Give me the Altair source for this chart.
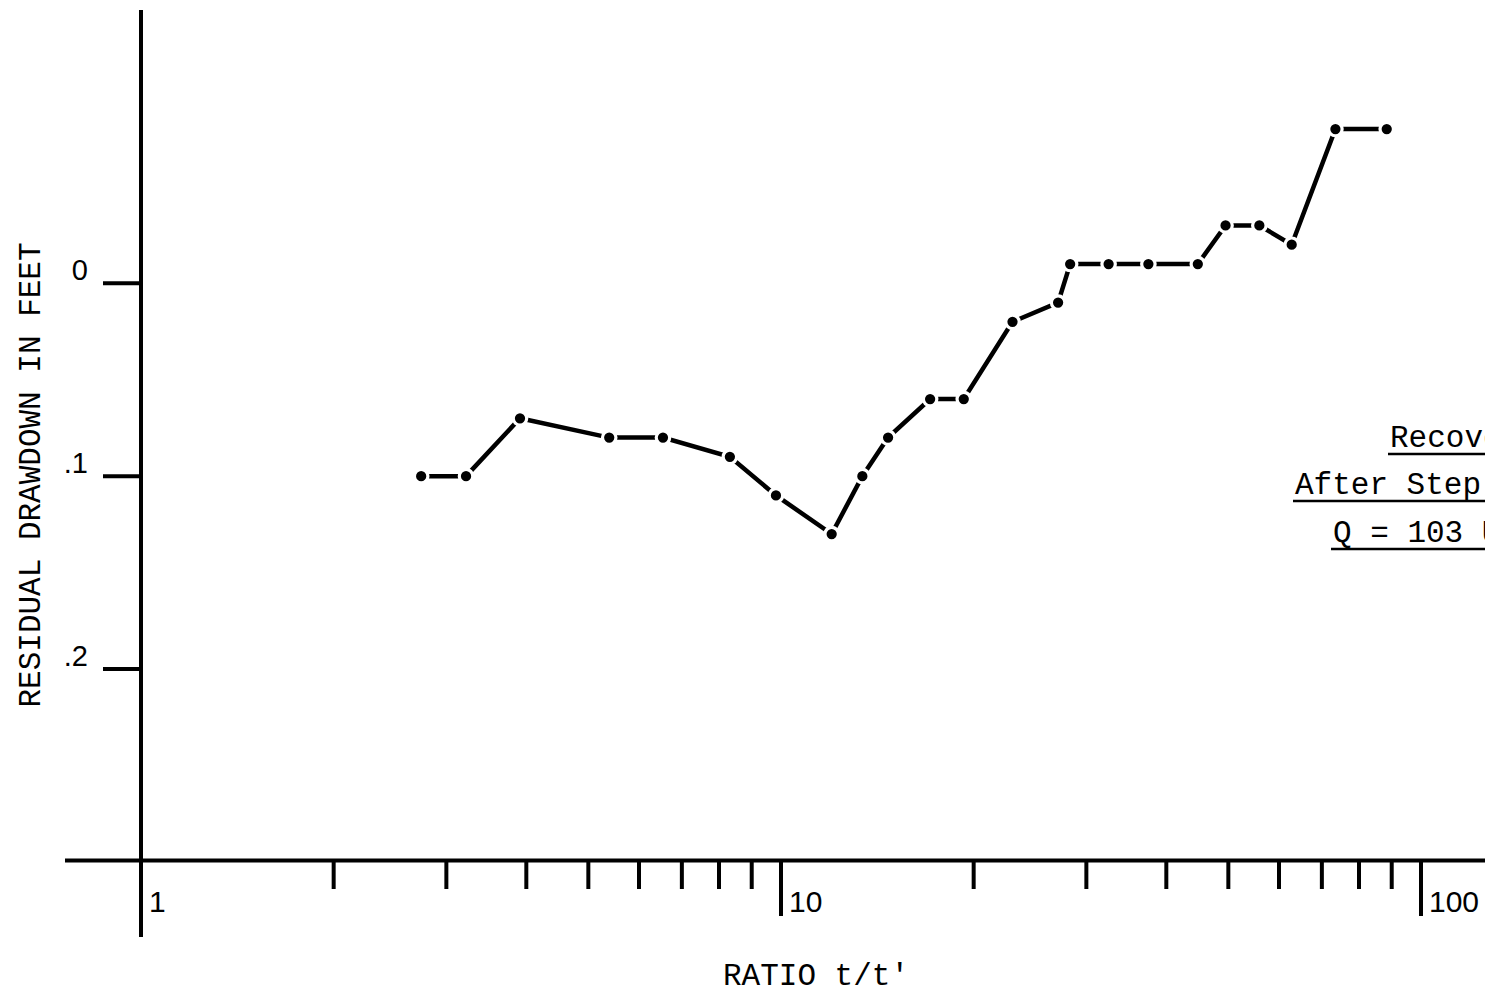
import altair as alt
import pandas as pd

# ---- data ----
ratio = [2.74, 3.22, 3.91, 5.39, 6.54, 8.32, 9.82, 12.0, 13.4, 14.7, 17.1, 19.3,
         23.0, 27.1, 28.3, 32.5, 37.5, 44.8, 49.5, 55.9, 62.8, 73.5, 88.4]
drawdown = [0.10, 0.10, 0.07, 0.08, 0.08, 0.09, 0.11, 0.13, 0.10, 0.08, 0.06, 0.06,
            0.02, 0.01, -0.01, -0.01, -0.01, -0.01, -0.03, -0.03, -0.02, -0.08, -0.08]

x_minor_ticks = [2, 3, 4, 5, 6, 7, 8, 9, 20, 30, 40, 50, 60, 70, 80, 90]
x_major_ticks = [10, 100]
x_axis_origin = [1]
x_label_values = [1, 10, 100]
x_label_text = ["1", "10", "100"]
y_tick_values = [0, 0.1, 0.2]
y_tick_text = ["0", ".1", ".2"]

y_title = "RESIDUAL DRAWDOWN IN FEET"
x_title = "RATIO t/t'"
note_lines = ["Recovery", "After Step Test", "Q = 103 USGPM"]

# ---- geometry (plot-area pixels) ----
W, H = 1477, 986
X_ONE_PX = 133.0       # where ratio 1 sits
DECADE_PX = 640.0
Y_ZERO_PX = 275.3      # where drawdown 0 sits
PX_PER_UNIT = 1928.5

xmin = 10 ** (-X_ONE_PX / DECADE_PX)
xmax = 10 ** ((W - X_ONE_PX) / DECADE_PX)
ymin = -Y_ZERO_PX / PX_PER_UNIT
ymax = (H - Y_ZERO_PX) / PX_PER_UNIT

x_scale = alt.Scale(type="log", domain=[xmin, xmax], nice=False)
y_scale = alt.Scale(domain=[ymin, ymax], reverse=True, nice=False, zero=False)

TYPE_FONT = "Liberation Mono"
NUM_FONT = "Liberation Sans"
AXIS_Y = 852.5
INK = "black"
RULE_W = 4

one = pd.DataFrame({"k": [0]})

def xq(field="v"):
    return alt.X(f"{field}:Q", scale=x_scale, axis=None)

def yq(field="v"):
    return alt.Y(f"{field}:Q", scale=y_scale, axis=None)

# axis lines
x_axis_line = alt.Chart(one).mark_rule(color=INK, strokeWidth=RULE_W).encode(
    x=alt.value(57), x2=alt.value(W + 20), y=alt.value(AXIS_Y))
y_axis_line = alt.Chart(pd.DataFrame({"v": x_axis_origin})).mark_rule(
    color=INK, strokeWidth=RULE_W).encode(x=xq(), y=alt.value(2), y2=alt.value(929))

minor = alt.Chart(pd.DataFrame({"v": x_minor_ticks})).mark_rule(
    color=INK, strokeWidth=RULE_W).encode(x=xq(), y=alt.value(AXIS_Y), y2=alt.value(881))
major = alt.Chart(pd.DataFrame({"v": x_major_ticks})).mark_rule(
    color=INK, strokeWidth=RULE_W).encode(x=xq(), y=alt.value(AXIS_Y), y2=alt.value(908))

y_ticks = alt.Chart(pd.DataFrame({"v": y_tick_values})).mark_rule(
    color=INK, strokeWidth=RULE_W).encode(y=yq(), x=alt.value(95), x2=alt.value(133))

x_labels = alt.Chart(pd.DataFrame({"v": x_label_values, "t": x_label_text})).mark_text(
    font=NUM_FONT, fontSize=30, align="left", baseline="alphabetic", dx=8, color=INK
).encode(x=xq(), y=alt.value(904), text="t:N")

y_labels = alt.Chart(pd.DataFrame({"v": y_tick_values, "t": y_tick_text})).mark_text(
    font=NUM_FONT, fontSize=29, align="right", baseline="alphabetic", dy=-3, color=INK
).encode(y=yq(), x=alt.value(80), text="t:N")

series = pd.DataFrame({"ratio": ratio, "drawdown": drawdown})
line = alt.Chart(series).mark_line(color=INK, strokeWidth=4.5).encode(
    x=xq("ratio"), y=yq("drawdown"))
dots = alt.Chart(series).mark_point(
    filled=True, shape="circle", size=181, fill=INK, stroke="white",
    strokeWidth=3.2, opacity=1).encode(x=xq("ratio"), y=yq("drawdown"))

ytitle = alt.Chart(one).mark_text(
    text=y_title, font=TYPE_FONT, fontSize=31, angle=270, align="center",
    baseline="middle", color=INK).encode(x=alt.value(23), y=alt.value(467))
xtitle = alt.Chart(one).mark_text(
    text=x_title, font=TYPE_FONT, fontSize=31, align="center",
    baseline="alphabetic", color=INK).encode(x=alt.value(808), y=alt.value(977))

note_pos = [(1382, 439), (1287, 486), (1325, 534)]
notes = []
for txt, (nx, ny) in zip(note_lines, note_pos):
    notes.append(alt.Chart(one).mark_text(
        text=txt, font=TYPE_FONT, fontSize=31, align="left",
        baseline="alphabetic", color=INK).encode(x=alt.value(nx), y=alt.value(ny)))
    notes.append(alt.Chart(one).mark_rule(color=INK, strokeWidth=2.5).encode(
        x=alt.value(nx - 2), x2=alt.value(W + 20), y=alt.value(ny + 7)))

chart = alt.layer(
    x_axis_line, y_axis_line, minor, major, y_ticks, x_labels, y_labels,
    line, dots, ytitle, xtitle, *notes
).properties(
    width=W, height=H,
    autosize=alt.AutoSizeParams(type="none"),
    padding=0,
    background="white",
).configure_view(stroke=None)

chart.save("out.html", embed_options={"renderer": "svg", "actions": False})
